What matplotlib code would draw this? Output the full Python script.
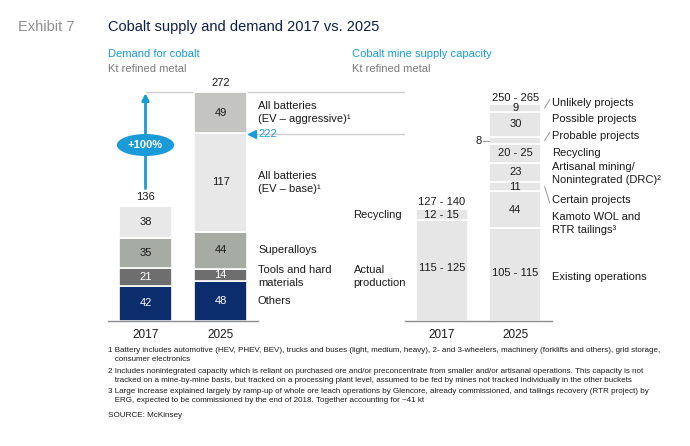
import matplotlib.pyplot as plt

plt.rcParams['font.family'] = ['Liberation Sans', 'DejaVu Sans']

# ---- data ----
years = ['2017', '2025']
others = [42, 48]
tools = [21, 14]
superalloys = [35, 44]
batteries_base = [38, 117]
batteries_aggr = [0, 49]
demand_totals = [136, 272]
demand_base_2025 = 222

supply17_names = ['Actual\nproduction', 'Recycling']
supply17_low = [115, 12]
supply17_high = [125, 15]
supply17_total = '127 - 140'

supply25_names = ['Existing operations', 'Kamoto WOL and\nRTR tailings³', 'Certain projects',
                  'Artisanal mining/\nNonintegrated (DRC)²', 'Recycling', 'Probable projects',
                  'Possible projects', 'Unlikely projects']
supply25_low = [105, 44, 11, 23, 20, 8, 30, 9]
supply25_high = [115, 44, 11, 23, 25, 8, 30, 9]
supply25_total = '250 - 265'

footnotes = [
    "1 Battery includes automotive (HEV, PHEV, BEV), trucks and buses (light, medium, heavy), 2- and 3-wheelers, machinery (forklifts and others), grid storage,\n   consumer electronics",
    "2 Includes nonintegrated capacity which is reliant on purchased ore and/or preconcentrate from smaller and/or artisanal operations. This capacity is not\n   tracked on a mine-by-mine basis, but tracked on a processing plant level, assumed to be fed by mines not tracked individually in the other buckets",
    "3 Large increase explained largely by ramp-up of whole ore leach operations by Glencore, already commissioned, and tailings recovery (RTR project) by\n   ERG, expected to be commissioned by the end of 2018. Together accounting for ~41 kt",
]

# ---- style ----
BLUE = '#1a9bd7'
NAVY = '#0b2d6b'
TXT = '#1a1a1a'
GRID = '#cfcfcf'
LEAD = '#9a9a9a'
W = 0.71
FS = 8

fig = plt.figure(figsize=(6.9, 4.46), dpi=100)
W_PX, H_PX = 690, 446
KT_PX = 0.842   # pixels per kt
base_px = 321
axL = fig.add_axes([108 / W_PX, (H_PX - base_px) / H_PX, 150 / W_PX, 300 * KT_PX / H_PX])
axR = fig.add_axes([405 / W_PX, (H_PX - base_px) / H_PX, 147 / W_PX, 300 * KT_PX / H_PX])

for ax in (axL, axR):
    ax.set_ylim(0, 300)
    ax.set_xlim(-0.5, 1.5)
    for s in ['top', 'right', 'left']:
        ax.spines[s].set_visible(False)
    ax.spines['bottom'].set_color('#8c8c8c')
    ax.spines['bottom'].set_linewidth(1)
    ax.set_yticks([])
    ax.set_xticks([0, 1])
    ax.set_xticklabels(years, fontsize=8.5, color=TXT)
    ax.tick_params(axis='x', length=0, pad=6)

# ---- demand (left) ----
x = [0, 1]
segs = [(others, NAVY, 'white'), (tools, '#6e6e6e', 'white'),
        (superalloys, '#a6aca4', TXT), (batteries_base, '#e8e8e8', TXT),
        (batteries_aggr, '#c4c5c3', TXT)]
bottom = [0, 0]
for vals, col, tc in segs:
    axL.bar(x, vals, W, bottom=bottom, color=col, edgecolor='white', linewidth=1.2)
    for i in x:
        if vals[i] > 0:
            axL.text(i, bottom[i] + vals[i] / 2, str(vals[i]), ha='center', va='center',
                     fontsize=FS, color=tc)
    bottom = [bottom[i] + vals[i] for i in x]

for i in x:
    axL.text(i, demand_totals[i] + 5, str(demand_totals[i]), ha='center', va='bottom',
             fontsize=FS, color=TXT)

# labels at right of the 2025 bar, at segment centres
lab_x = 1.5
names_left = ['Others', 'Tools and hard\nmaterials', 'Superalloys',
              'All batteries\n(EV – base)¹', 'All batteries\n(EV – aggressive)¹']
b = 0
for (vals, _, _), nm in zip(segs, names_left):
    yc = b + vals[1] / 2
    if nm.startswith('Tools'):
        yc -= 2
    axL.text(lab_x, yc, nm, ha='left', va='center', fontsize=FS, color=TXT,
             clip_on=False, linespacing=1.3)
    b += vals[1]

# right-hand bar left edge, in left-axes data coords
x_end = axL.transData.inverted().transform(axR.transData.transform((1 - W / 2, 0)))[0]

axL.plot([0, x_end], [demand_totals[1]] * 2, color=GRID, lw=1, clip_on=False, zorder=0)
axL.plot([1 + W / 2, x_end], [demand_base_2025] * 2, color=GRID, lw=1, clip_on=False, zorder=0)
axL.plot([1.42], [demand_base_2025], marker='<', color=BLUE, ms=6, clip_on=False)
axL.text(1.5, demand_base_2025, str(demand_base_2025), ha='left', va='center',
         fontsize=FS, color=BLUE, clip_on=False)

# growth arrow
axL.annotate('', xy=(0, demand_totals[1] + 2), xytext=(0, demand_totals[0] + 18),
             arrowprops=dict(arrowstyle='-|>', color=BLUE, lw=2, mutation_scale=10))
axL.text(0, (demand_totals[0] + demand_totals[1]) / 2 + 5, '+100%', ha='center', va='center',
         fontsize=FS, color='white', fontweight='bold',
         bbox=dict(boxstyle='ellipse,pad=0.25', fc=BLUE, ec='none'))

# ---- supply (right) ----
mid17 = [(lo + hi) / 2 for lo, hi in zip(supply17_low, supply17_high)]
mid25 = [(lo + hi) / 2 for lo, hi in zip(supply25_low, supply25_high)]


def rng(lo, hi):
    return str(lo) if lo == hi else f'{lo} - {hi}'


b = 0
for k, v in enumerate(mid17):
    axR.bar(0, v, W, bottom=b, color='#e6e6e6', edgecolor='white', linewidth=1.2)
    yc = b + v / 2 if k == 0 else b + v / 2 - 1
    axR.text(0, yc + (3 if k == 0 else 0), rng(supply17_low[k], supply17_high[k]),
             ha='center', va='center', fontsize=FS, color=TXT)
    axR.text(-1.2, yc - (7 if k == 0 else 0), supply17_names[k], ha='left', va='center',
             fontsize=FS, color=TXT, clip_on=False, linespacing=1.3)
    b += v
axR.text(0, b + 2, supply17_total, ha='center', va='bottom', fontsize=FS, color=TXT)

# label positions (kt) for the 2025 bar labels, and which ones get a leader line
lab25_y = [52, 116, 144, 175, 199, 220, 240, 259]
leader = [False, False, True, False, False, True, False, True]
b = 0
for k, v in enumerate(mid25):
    axR.bar(1, v, W, bottom=b, color='#e6e6e6', edgecolor='white', linewidth=1.2)
    yc = b + v / 2
    txt = rng(supply25_low[k], supply25_high[k])
    if v < 9:
        axR.text(1 - W / 2 - 0.1, yc - 1, txt, ha='right', va='center', fontsize=FS, color=TXT,
                 clip_on=False)
        axR.plot([1 - W / 2 - 0.08, 1 - W / 2], [yc - 1, yc - 1], color=LEAD, lw=0.7,
                 clip_on=False)
    else:
        axR.text(1, yc + (2 if k == 0 else 0), txt, ha='center', va='center', fontsize=FS, color=TXT)
    ly = lab25_y[k]
    axR.text(1.5, ly, supply25_names[k], ha='left', va='center', fontsize=FS, color=TXT,
             clip_on=False, linespacing=1.3)
    if leader[k]:
        axR.plot([1.4, 1.47], [yc, ly + (4 if ly > yc else -4)], color=LEAD, lw=0.7,
                 clip_on=False)
    b += v
axR.text(1, b + 2, supply25_total, ha='center', va='bottom', fontsize=FS, color=TXT)

# ---- titles ----
fig.text(18 / W_PX, 1 - 27 / H_PX, 'Exhibit 7', fontsize=10.5, color='#8f8f8f', va='center')
fig.text(108 / W_PX, 1 - 27 / H_PX, 'Cobalt supply and demand 2017 vs. 2025', fontsize=10.5,
         color='#0b1f4a', va='center')
fig.text(108 / W_PX, 1 - 54 / H_PX, 'Demand for cobalt', fontsize=FS, color=BLUE, va='center')
fig.text(108 / W_PX, 1 - 69 / H_PX, 'Kt refined metal', fontsize=FS, color='#7a7a7a', va='center')
fig.text(352 / W_PX, 1 - 54 / H_PX, 'Cobalt mine supply capacity', fontsize=FS, color=BLUE, va='center')
fig.text(352 / W_PX, 1 - 69 / H_PX, 'Kt refined metal', fontsize=FS, color='#7a7a7a', va='center')

# ---- footnotes ----
fn_y = [347, 368, 388]
for t, yy in zip(footnotes, fn_y):
    fig.text(108 / W_PX, 1 - yy / H_PX, t, fontsize=5.75, color=TXT, va='top', linespacing=1.35)
fig.text(108 / W_PX, 1 - 412 / H_PX, 'SOURCE: McKinsey', fontsize=5.9, color=TXT, va='top')

fig.savefig('out.png', dpi=100, facecolor='white')
